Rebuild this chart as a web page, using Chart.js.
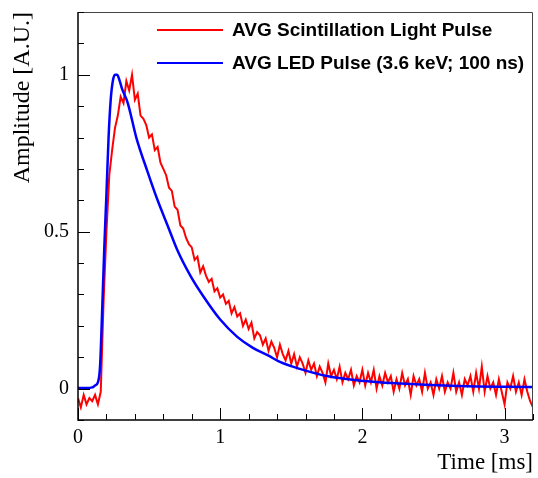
<!DOCTYPE html>
<html>
<head>
<meta charset="utf-8">
<script src="https://cdn.jsdelivr.net/npm/chart.js@4"></script>
<style>
  html, body { margin: 0; padding: 0; background: #ffffff; }
  #c { display: block; }
</style>
</head>
<body>
<canvas id="c" width="538" height="478"></canvas>
<script>
// ---- data ----
const redLabel = "AVG Scintillation Light Pulse";
const blueLabel = "AVG LED Pulse (3.6 keV; 100 ns)";

const redTime = [
  0.00,0.02,0.04,0.06,0.08,0.10,0.12,0.14,0.16,0.18,
  0.20,0.22,0.24,0.26,0.28,0.30,0.32,0.34,0.36,0.38,
  0.40,0.42,0.44,0.46,0.48,0.50,0.52,0.54,0.56,0.58,
  0.60,0.62,0.64,0.66,0.68,0.70,0.72,0.74,0.76,0.78,
  0.80,0.82,0.84,0.86,0.88,0.90,0.92,0.94,0.96,0.98,
  1.00,1.02,1.04,1.06,1.08,1.10,1.12,1.14,1.16,1.18,
  1.20,1.22,1.24,1.26,1.28,1.30,1.32,1.34,1.36,1.38,
  1.40,1.42,1.44,1.46,1.48,1.50,1.52,1.54,1.56,1.58,
  1.60,1.62,1.64,1.66,1.68,1.70,1.72,1.74,1.76,1.78,
  1.80,1.82,1.84,1.86,1.88,1.90,1.92,1.94,1.96,1.98,
  2.00,2.02,2.04,2.06,2.08,2.10,2.12,2.14,2.16,2.18,
  2.20,2.22,2.24,2.26,2.28,2.30,2.32,2.34,2.36,2.38,
  2.40,2.42,2.44,2.46,2.48,2.50,2.52,2.54,2.56,2.58,
  2.60,2.62,2.64,2.66,2.68,2.70,2.72,2.74,2.76,2.78,
  2.80,2.82,2.84,2.86,2.88,2.90,2.92,2.94,2.96,2.98,
  3.00,3.02,3.04,3.06,3.08,3.10,3.12,3.14,3.16,3.18,
  3.20
];
const redAmp = [
  -0.03,-0.06,-0.02,-0.05,-0.03,-0.04,-0.02,-0.05,-0.01,0.28,
  0.50,0.68,0.76,0.83,0.87,0.93,0.91,0.98,0.95,1.00,
  0.92,0.94,0.87,0.86,0.84,0.80,0.81,0.76,0.77,0.72,
  0.70,0.68,0.64,0.63,0.58,0.57,0.52,0.51,0.48,0.46,
  0.45,0.41,0.42,0.37,0.39,0.36,0.34,0.35,0.31,0.32,
  0.29,0.30,0.27,0.28,0.24,0.26,0.23,0.24,0.20,0.22,
  0.19,0.21,0.16,0.18,0.17,0.14,0.16,0.12,0.15,0.13,
  0.10,0.14,0.11,0.09,0.12,0.08,0.11,0.07,0.10,0.08,
  0.05,0.09,0.06,0.08,0.04,0.07,0.05,0.02,0.08,0.04,
  0.06,0.03,0.07,0.02,0.05,0.03,0.06,0.01,0.04,0.02,
  0.06,0.01,0.05,0.02,0.06,0.00,0.04,0.01,0.05,0.02,
  0.04,-0.01,0.03,0.00,0.05,0.01,0.03,-0.02,0.04,0.01,
  0.03,-0.01,0.05,0.00,0.02,-0.02,0.03,0.00,0.04,-0.01,
  0.02,0.00,0.05,-0.01,0.02,-0.02,0.03,0.01,0.04,-0.01,
  0.05,0.00,0.07,-0.01,0.04,0.00,0.02,-0.02,0.03,-0.01,
  -0.05,0.02,0.00,0.04,-0.01,0.02,-0.02,0.03,-0.01,-0.04,
  -0.06
];

const blueTime = [0, 0.06, 0.10, 0.12, 0.14, 0.155, 0.17, 0.185, 0.20, 0.215,
  0.23, 0.245, 0.26, 0.275, 0.29, 0.31, 0.35, 0.41, 0.49, 0.56,
  0.63, 0.70, 0.79, 0.88, 1.00, 1.12, 1.23, 1.34, 1.42, 1.56,
  1.75, 1.99, 2.27, 2.67, 3.20];
const blueAmp = [0.002, 0.002, 0.004, 0.01, 0.02, 0.07, 0.25, 0.45, 0.62, 0.80,
  0.92, 0.98, 1.00, 1.00, 0.985, 0.955, 0.91, 0.80, 0.69, 0.60,
  0.52, 0.44, 0.36, 0.295, 0.22, 0.165, 0.13, 0.105, 0.085, 0.063,
  0.04, 0.025, 0.016, 0.008, 0.005];

const xMajorTicks = [0, 1, 2, 3];
const yMajorTicks = [0, 0.5, 1];
const xRange = [0, 3.2];
const yRange = [-0.1, 1.2];
const xMinorStep = 0.2;
const yMinorStep = 0.1;
const xTitle = "Time [ms]";
const yTitle = "Amplitude [A.U.]";

const toPoints = (ts, vs) => ts.map((t, i) => ({ x: t, y: vs[i] }));

// ---- frame, ticks, legend ----
const rootStyle = {
  id: 'rootStyle',
  afterDatasetsDraw(chart) {
    const { ctx, chartArea: a, scales: { x, y } } = chart;
    ctx.save();
    // frame
    ctx.strokeStyle = '#444';
    ctx.lineWidth = 1;
    ctx.beginPath();
    ctx.moveTo(a.left, a.top + 0.5);
    ctx.lineTo(a.right - 0.5, a.top + 0.5);
    ctx.lineTo(a.right - 0.5, a.bottom);
    ctx.stroke();
    // axes
    ctx.strokeStyle = '#000';
    ctx.lineWidth = 1.5;
    ctx.beginPath();
    ctx.moveTo(a.left, a.top);
    ctx.lineTo(a.left, a.bottom);
    ctx.lineTo(a.right, a.bottom);
    ctx.stroke();
    // ticks
    ctx.lineWidth = 1;
    ctx.beginPath();
    const eps = 1e-6;
    const nx = Math.round((xRange[1] - xRange[0]) / xMinorStep);
    for (let i = 0; i <= nx; i++) {
      const v = xRange[0] + i * xMinorStep;
      const major = xMajorTicks.some(m => Math.abs(m - v) < eps);
      const px = Math.round(x.getPixelForValue(v)) + 0.5;
      const len = major ? 12 : 6;
      ctx.moveTo(px, a.bottom);
      ctx.lineTo(px, a.bottom - len);
    }
    const ny = Math.round((yRange[1] - yRange[0]) / yMinorStep);
    for (let i = 0; i <= ny; i++) {
      const v = yRange[0] + i * yMinorStep;
      const major = yMajorTicks.some(m => Math.abs(m - v) < eps);
      const py = Math.round(y.getPixelForValue(v)) + 0.5;
      const len = major ? 12 : 6;
      ctx.moveTo(a.left, py);
      ctx.lineTo(a.left + len, py);
    }
    ctx.stroke();
    // legend
    const items = [...chart.data.datasets].sort((p, q) => p.legendIndex - q.legendIndex);
    ctx.font = 'bold 19px "Liberation Sans", Arial, sans-serif';
    ctx.textBaseline = 'middle';
    ctx.textAlign = 'left';
    items.forEach((ds, i) => {
      const ly = 30 + i * 33;
      ctx.strokeStyle = ds.borderColor;
      ctx.lineWidth = 2;
      ctx.beginPath();
      ctx.moveTo(157, ly);
      ctx.lineTo(223, ly);
      ctx.stroke();
      ctx.fillStyle = '#000';
      ctx.fillText(ds.label, 232, ly + 1);
    });
    ctx.restore();
  }
};

const serif = '"Liberation Serif", "Times New Roman", serif';

new Chart(document.getElementById('c'), {
  type: 'line',
  data: {
    datasets: [
      {
        label: redLabel,
        legendIndex: 0,
        data: toPoints(redTime, redAmp),
        borderColor: '#ff0000',
        borderWidth: 2,
        pointRadius: 0,
        tension: 0,
        order: 1
      },
      {
        label: blueLabel,
        legendIndex: 1,
        data: toPoints(blueTime, blueAmp),
        borderColor: '#0000ff',
        borderWidth: 2.5,
        pointRadius: 0,
        cubicInterpolationMode: 'monotone',
        order: 0
      }
    ]
  },
  options: {
    responsive: false,
    devicePixelRatio: 1,
    animation: false,
    events: [],
    layout: { padding: { left: 0, top: 12, right: 5, bottom: 0 } },
    plugins: {
      legend: { display: false },
      tooltip: { enabled: false }
    },
    scales: {
      x: {
        type: 'linear',
        min: xRange[0],
        max: xRange[1],
        afterBuildTicks: s => { s.ticks = xMajorTicks.map(v => ({ value: v })); },
        afterFit: s => { s.height = 58; s.paddingLeft = 0; s.paddingRight = 0; },
        grid: { display: false, drawTicks: false },
        border: { display: false },
        ticks: {
          color: '#000',
          font: { family: serif, size: 20 },
          padding: 6,
          maxRotation: 0,
          autoSkip: false,
          callback: v => String(v)
        },
        title: {
          display: true,
          text: xTitle,
          align: 'end',
          color: '#000',
          font: { family: serif, size: 23 },
          padding: { top: 0, bottom: 1 }
        }
      },
      y: {
        type: 'linear',
        min: yRange[0],
        max: yRange[1],
        afterBuildTicks: s => { s.ticks = yMajorTicks.map(v => ({ value: v })); },
        afterFit: s => { s.width = 78; s.paddingTop = 0; s.paddingBottom = 0; },
        grid: { display: false, drawTicks: false },
        border: { display: false },
        ticks: {
          color: '#000',
          font: { family: serif, size: 20 },
          padding: 9,
          autoSkip: false,
          callback: v => String(v)
        },
        title: {
          display: true,
          text: yTitle,
          align: 'end',
          color: '#000',
          font: { family: serif, size: 24 },
          padding: { top: 8, bottom: 0 }
        }
      }
    }
  },
  plugins: [rootStyle]
});
</script>
</body>
</html>
